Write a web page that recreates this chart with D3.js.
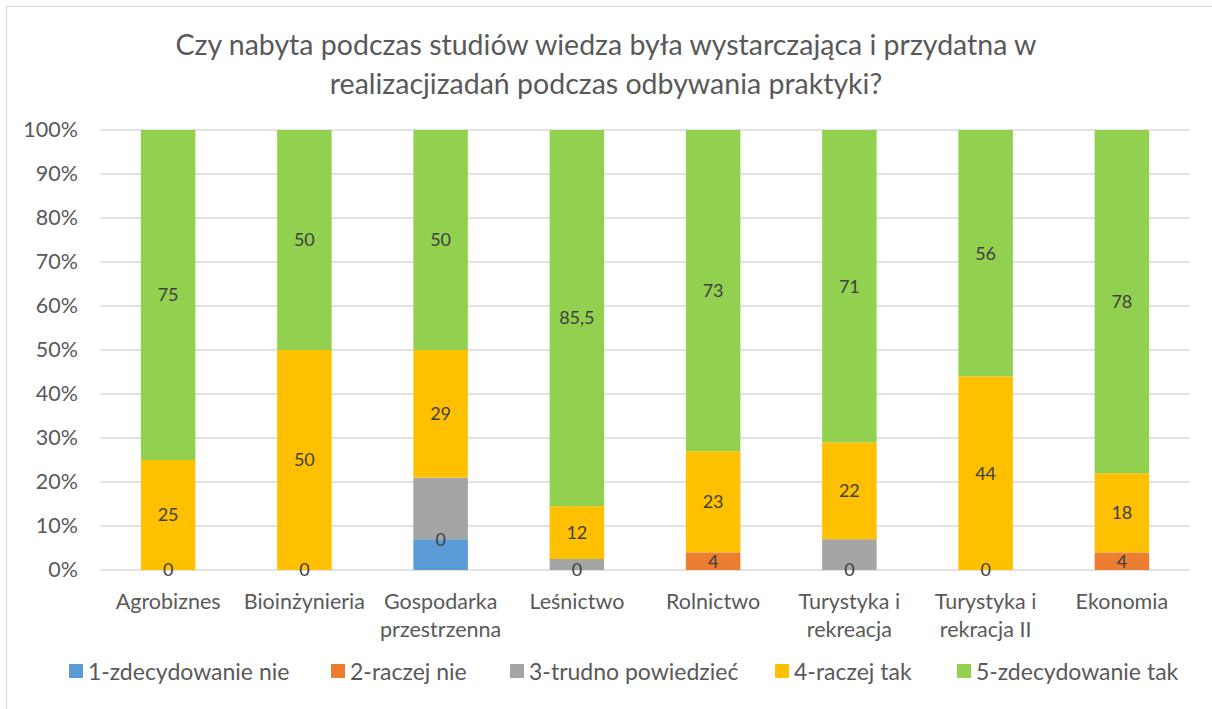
<!DOCTYPE html>
<html>
<head>
<meta charset="utf-8">
<script src="https://cdn.jsdelivr.net/npm/d3@7"></script>
<style>
  body { margin: 0; background: #fff; }
  text { font-family: Lato, "Open Sans", sans-serif; }
</style>
</head>
<body>
<div class="chart"></div>
<script>
const svgWidth = 1212
const svgHeight = 709

// data
const categories = [
  ["Agrobiznes"],
  ["Bioinżynieria"],
  ["Gospodarka", "przestrzenna"],
  ["Leśnictwo"],
  ["Rolnictwo"],
  ["Turystyka i", "rekreacja"],
  ["Turystyka i", "rekracja II"],
  ["Ekonomia"]
]
const seriesNames = ["1-zdecydowanie nie", "2-raczej nie", "3-trudno powiedzieć", "4-raczej tak", "5-zdecydowanie tak"]
const s1 = [0, 0, 7, 0, 0, 0, 0, 0]
const s2 = [0, 0, 0, 0, 4, 0, 0, 4]
const s3 = [0, 0, 14, 2.5, 0, 7, 0, 0]
const s4 = [25, 50, 29, 12, 23, 22, 44, 18]
const s5 = [75, 50, 50, 85.5, 73, 71, 56, 78]
const yTicks = [0, 10, 20, 30, 40, 50, 60, 70, 80, 90, 100]

const colors = ["#5B9BD5", "#ED7D31", "#A5A5A5", "#FFC000", "#92D050"]
const showLabel = [false, true, false, true, true]

let margin = { top: 130, right: 22, bottom: 139, left: 100 }
let width = svgWidth - margin.left - margin.right
let height = svgHeight - margin.top - margin.bottom

let svg = d3.select(".chart")
  .append("svg")
  .attr("width", svgWidth)
  .attr("height", svgHeight)

// outer frame
svg.append("rect")
  .attr("x", 6.5).attr("y", 6.5)
  .attr("width", svgWidth + 10).attr("height", svgHeight + 10)
  .attr("fill", "none").attr("stroke", "#d9d9d9")

// title
let title = svg.append("text")
  .attr("text-anchor", "middle")
  .attr("fill", "#595959")
  .style("font-size", "28.5px")
title.append("tspan").attr("x", 606).attr("y", 55)
  .text("Czy nabyta podczas studiów wiedza była wystarczająca i przydatna w")
title.append("tspan").attr("x", 606).attr("y", 94)
  .text("realizacjizadań podczas odbywania praktyki?")

let chartGroup = svg.append("g")
  .attr("transform", `translate(${margin.left}, ${margin.top})`)

let table = categories.map((c, i) => ({
  key: i, s0: s1[i], s1: s2[i], s2: s3[i], s3: s4[i], s4: s5[i]
}))
let keys = ["s0", "s1", "s2", "s3", "s4"]
let stacked = d3.stack().keys(keys)(table)

let x = d3.scaleBand()
  .domain(categories.map((c, i) => i))
  .range([0, width])
  .paddingInner(0.6)
  .paddingOuter(0.3)

let y = d3.scaleLinear().domain([0, 100]).range([height, 0])

// gridlines
chartGroup.append("g")
  .selectAll("line")
  .data(yTicks)
  .enter()
  .append("line")
  .attr("x1", 0).attr("x2", width)
  .attr("y1", d => y(d)).attr("y2", d => y(d))
  .attr("stroke", "#d9d9d9")
  .attr("stroke-width", 1.3)

// y labels
let leftAxis = d3.axisLeft(y).tickValues(yTicks).tickFormat(d => d + "%").tickSize(0).tickPadding(22)
let yAxis = chartGroup.append("g").call(leftAxis)
yAxis.select(".domain").remove()
yAxis.selectAll("text").attr("fill", "#595959").style("font-size", "21.5px")

// bars
let layers = chartGroup.selectAll(".layer")
  .data(stacked)
  .enter()
  .append("g")
  .attr("fill", (d, i) => colors[i])

layers.selectAll("rect")
  .data(d => d)
  .enter()
  .append("rect")
  .attr("x", d => x(d.data.key))
  .attr("width", x.bandwidth())
  .attr("y", d => y(d[1]))
  .attr("height", d => y(d[0]) - y(d[1]))

// data labels
stacked.forEach((layer, li) => {
  if (!showLabel[li]) return
  chartGroup.append("g")
    .selectAll("text")
    .data(layer)
    .enter()
    .append("text")
    .attr("x", d => x(d.data.key) + x.bandwidth() / 2)
    .attr("y", d => y((d[0] + d[1]) / 2))
    .attr("dy", "0.35em")
    .attr("text-anchor", "middle")
    .attr("fill", "#404040")
    .style("font-size", "18px")
    .text(d => String(d[1] - d[0]).replace(".", ","))
})

// x labels
let xLabels = chartGroup.append("g")
  .attr("transform", `translate(0, ${height})`)
categories.forEach((lines, i) => {
  let t = xLabels.append("text")
    .attr("text-anchor", "middle")
    .attr("fill", "#595959")
    .style("font-size", "21.5px")
  lines.forEach((l, j) => {
    t.append("tspan")
      .attr("x", x(i) + x.bandwidth() / 2)
      .attr("y", 39 + j * 28)
      .text(l)
  })
})

// legend
let legendX = [88, 350, 529, 794, 976]
let legend = svg.append("g").attr("transform", "translate(0, 672)")
seriesNames.forEach((name, i) => {
  legend.append("rect")
    .attr("x", legendX[i] - 19).attr("y", -8)
    .attr("width", 14).attr("height", 14)
    .attr("fill", colors[i])
  legend.append("text")
    .attr("x", legendX[i])
    .attr("y", 0)
    .attr("dy", "0.35em")
    .attr("fill", "#595959")
    .style("font-size", "23px")
    .text(name)
})
</script>
</body>
</html>
